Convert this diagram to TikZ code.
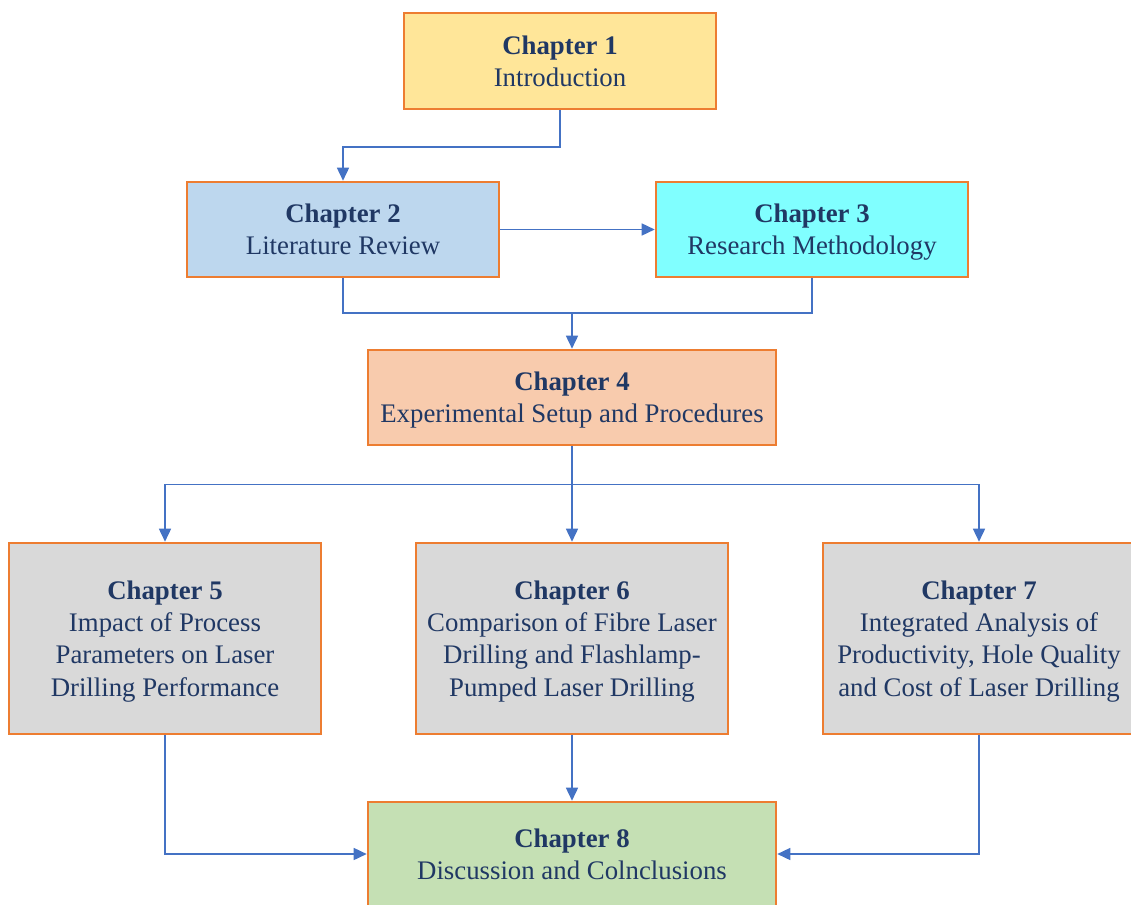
\documentclass[tikz,border=0pt]{standalone}
\usepackage{fontspec}
\setmainfont{Liberation Serif}
\usetikzlibrary{arrows.meta,calc}
\definecolor{edgeorange}{HTML}{ED7D31}
\definecolor{linkblue}{HTML}{4472C4}
\definecolor{inknavy}{HTML}{203864}
\definecolor{fillyellow}{HTML}{FFE699}
\definecolor{fillblue}{HTML}{BDD7EE}
\definecolor{fillcyan}{HTML}{80FFFF}
\definecolor{fillpeach}{HTML}{F8CBAD}
\definecolor{fillgrey}{HTML}{D9D9D9}
\definecolor{fillgreen}{HTML}{C5E0B4}
\tikzset{
  chapbox/.style={draw=edgeorange, line width=2.6pt, rectangle, align=center,
    text=inknavy, font=\fontsize{26.8}{32.3}\selectfont, inner sep=0pt,
    text depth=0pt},
  link/.style={draw=linkblue, line width=1.6pt},
  arr/.style={link, -{Triangle[length=13pt,width=12pt]}}
}
\begin{document}
\begin{tikzpicture}[x=1pt,y=-1pt]
\useasboundingbox (0,0) rectangle (1131,904);
\clip (0,0) rectangle (1131,904);
\node[chapbox, fill=fillyellow, minimum width=312pt, minimum height=96pt] (c1) at (560,61)
  {\textbf{Chapter 1}\\Introduction};
\node[chapbox, fill=fillblue, minimum width=312pt, minimum height=95pt] (c2) at (343,229.5)
  {\textbf{Chapter 2}\\Literature Review};
\node[chapbox, fill=fillcyan, minimum width=312pt, minimum height=95pt] (c3) at (812,229.5)
  {\textbf{Chapter 3}\\Research Methodology};
\node[chapbox, fill=fillpeach, minimum width=408pt, minimum height=95pt] (c4) at (572,397.5)
  {\textbf{Chapter 4}\\Experimental Setup and Procedures};
\node[chapbox, fill=fillgrey, minimum width=312pt, minimum height=191pt] (c5) at (165,638.5)
  {\textbf{Chapter 5}\\Impact of Process\\Parameters on Laser\\Drilling Performance};
\node[chapbox, fill=fillgrey, minimum width=312pt, minimum height=191pt] (c6) at (572,638.5)
  {\textbf{Chapter 6}\\Comparison of Fibre Laser\\Drilling and Flashlamp-\\Pumped Laser Drilling};
\node[chapbox, fill=fillgrey, minimum width=312pt, minimum height=191pt] (c7) at (979,638.5)
  {\textbf{Chapter 7}\\Integrated Analysis of\\Productivity, Hole Quality\\and Cost of Laser Drilling};
\node[chapbox, fill=fillgreen, minimum width=408pt, minimum height=104pt] (c8) at (572,854)
  {\textbf{Chapter 8}\\Discussion and Colnclusions};

% Chapter 1 to Chapter 2
\draw[arr] (c1.south) -- ++(0,37) -| (c2.north);
% Chapter 2 to Chapter 3
\draw[arr] (c2.east) -- (c3.west);
% Chapters 2 and 3 merge into Chapter 4
\coordinate (m1) at ($(c4.north)+(0,-36)$);
\draw[link] (c2.south) |- (m1) -| (c3.south);
\draw[arr] (m1) -- (c4.north);
% Chapter 4 fans out to Chapters 5, 6, 7
\coordinate (m2) at ($(c4.south)+(0,38)$);
\draw[link] (c4.south) -- (m2);
\draw[arr] (m2) -| (c5.north);
\draw[arr] (m2) -| (c7.north);
\draw[arr] (m2) -- (c6.north);
% Chapters 5, 6, 7 converge on Chapter 8
\draw[arr] (c5.south) |- (c8.west);
\draw[arr] (c6.south) -- (c8.north);
\draw[arr] (c7.south) |- (c8.east);
\end{tikzpicture}
\end{document}
